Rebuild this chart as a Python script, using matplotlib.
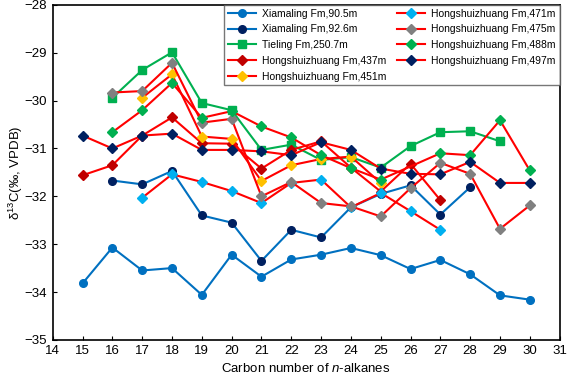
import numpy as np
import matplotlib
matplotlib.use("Agg")
import matplotlib.pyplot as plt

plt.rcParams["font.family"] = ["Liberation Sans", "DejaVu Sans"]
plt.rcParams["mathtext.fontset"] = "custom"
plt.rcParams["mathtext.rm"] = "Liberation Sans"
plt.rcParams["mathtext.it"] = "Liberation Sans:italic"

# carbon numbers and d13C values for each sample
x_905 = [15, 16, 17, 18, 19, 20, 21, 22, 23, 24, 25, 26, 27, 28, 29, 30]
y_905 = [-33.82, -33.07, -33.55, -33.50, -34.06, -33.22, -33.68, -33.32, -33.22, -33.08,
         -33.23, -33.52, -33.33, -33.63, -34.07, -34.16]

x_926 = [16, 17, 18, 19, 20, 21, 22, 23, 24, 25, 26, 27, 28]
y_926 = [-31.67, -31.75, -31.47, -32.40, -32.55, -33.35, -32.70, -32.86, -32.23, -31.95,
         -31.77, -32.38, -31.81]

x_tl = [16, 17, 18, 19, 20, 21, 22, 23, 24, 25, 26, 27, 28, 29]
y_tl = [-29.94, -29.36, -28.99, -30.05, -30.20, -31.03, -30.92, -31.24, -31.18, -31.40,
        -30.95, -30.66, -30.64, -30.85]

x_437 = [15, 16, 17, 18, 19, 20, 21, 22, 23, 24, 25, 26, 27]
y_437 = [-31.56, -31.35, -30.73, -30.35, -30.89, -30.90, -31.42, -31.03, -30.85, -31.40,
         -31.90, -31.32, -32.08]

x_451 = [17, 18, 19, 20, 21, 22, 23, 24, 25]
y_451 = [-29.94, -29.45, -30.75, -30.80, -31.68, -31.35, -31.22, -31.17, -31.72]

x_471 = [17, 18, 19, 20, 21, 22, 23, 24, 25, 26, 27]
y_471 = [-32.03, -31.54, -31.70, -31.89, -32.14, -31.72, -31.65, -32.23, -31.93, -32.31,
         -32.70]

x_475 = [16, 17, 18, 19, 20, 21, 22, 23, 24, 25, 26, 27, 28, 29, 30]
y_475 = [-29.83, -29.80, -29.21, -30.46, -30.38, -32.00, -31.70, -32.14, -32.21, -32.42,
         -31.83, -31.30, -31.53, -32.68, -32.19]

x_488 = [16, 17, 18, 19, 20, 21, 22, 23, 24, 25, 27, 28, 29, 30]
y_488 = [-30.66, -30.20, -29.63, -30.36, -30.22, -30.54, -30.77, -31.14, -31.41, -31.65,
         -31.10, -31.14, -30.41, -31.46]

x_497 = [15, 16, 17, 18, 19, 20, 21, 22, 23, 24, 25, 26, 27, 28, 29, 30]
y_497 = [-30.73, -31.00, -30.73, -30.69, -31.03, -31.03, -31.06, -31.14, -30.87, -31.03,
         -31.42, -31.53, -31.54, -31.28, -31.72, -31.72]

x_ticks = list(range(14, 32))
y_ticks = [-35, -34, -33, -32, -31, -30, -29, -28]

fig = plt.figure(figsize=(5.67, 3.81), dpi=100)
ax = fig.add_axes([0.093, 0.108, 0.894, 0.879])

blue = "#0070C0"
navy = "#002060"
green = "#00B050"
red = "#FF0000"
lw = 1.5
ms = 5.5

ax.plot(x_905, y_905, color=blue, lw=lw, marker="o", ms=ms, mfc=blue, mec=blue,
        label="Xiamaling Fm,90.5m")
ax.plot(x_926, y_926, color=blue, lw=lw, marker="o", ms=ms, mfc=navy, mec=navy,
        label="Xiamaling Fm,92.6m")
ax.plot(x_tl, y_tl, color=green, lw=lw, marker="s", ms=ms, mfc=green, mec=green,
        label="Tieling Fm,250.7m")
ax.plot(x_437, y_437, color=red, lw=lw, marker="D", ms=ms, mfc="#C00000", mec="#C00000",
        label="Hongshuizhuang Fm,437m")
ax.plot(x_451, y_451, color=red, lw=lw, marker="D", ms=ms, mfc="#FFC000", mec="#FFC000",
        label="Hongshuizhuang Fm,451m")
ax.plot(x_471, y_471, color=red, lw=lw, marker="D", ms=ms, mfc="#00B0F0", mec="#00B0F0",
        label="Hongshuizhuang Fm,471m")
ax.plot(x_475, y_475, color=red, lw=lw, marker="D", ms=ms, mfc="#808080", mec="#808080",
        label="Hongshuizhuang Fm,475m")
ax.plot(x_488, y_488, color=red, lw=lw, marker="D", ms=ms, mfc=green, mec=green,
        label="Hongshuizhuang Fm,488m")
ax.plot(x_497, y_497, color=red, lw=lw, marker="D", ms=ms, mfc=navy, mec=navy,
        label="Hongshuizhuang Fm,497m")

ax.set_xlim(14, 31)
ax.set_ylim(-35, -28)
ax.set_xticks(x_ticks)
ax.set_yticks(y_ticks)
ax.tick_params(direction="in", length=3, labelsize=9.5, pad=4)
for s in ax.spines.values():
    s.set_linewidth(1.2)

ax.set_xlabel("Carbon number of $\\mathit{n}$-alkanes", fontsize=9.5, labelpad=3)
ax.set_ylabel("δ$^{13}$C(‰, VPDB)", fontsize=9.5, labelpad=0)

leg = ax.legend(loc="upper right", ncol=2, fontsize=7.5, frameon=True, fancybox=False,
                borderaxespad=0, handlelength=2.7, columnspacing=1.0, labelspacing=0.55,
                handletextpad=0.6, borderpad=0.35)
leg.get_frame().set_edgecolor("#555555")
leg.get_frame().set_linewidth(1.0)

fig.savefig("out.png", dpi=100)
